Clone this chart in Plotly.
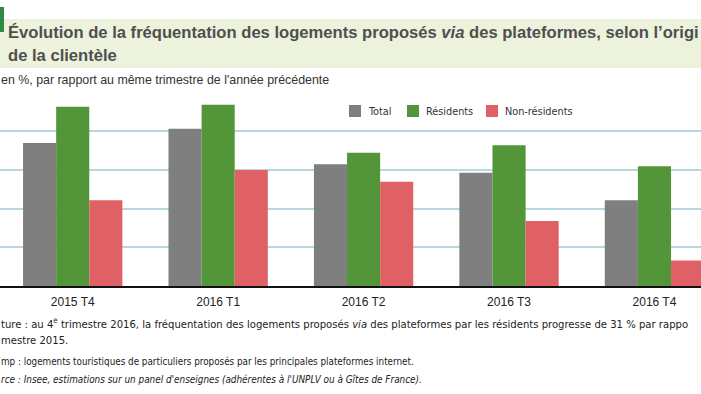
import plotly.graph_objects as go

categories = ["2015 T4", "2016 T1", "2016 T2", "2016 T3", "2016 T4"]
total = [37.0, 40.7, 31.5, 29.3, 22.2]
residents = [46.4, 46.9, 34.5, 36.4, 31.0]
non_residents = [22.2, 30.0, 27.0, 16.8, 6.6]
series_names = ["Total", "Résidents", "Non-résidents"]
series_colors = ["#7f7f7f", "#53963a", "#df6165"]

W, H = 701, 394
T, B = 92, 108
PH = H - T - B


def py(y):
    return (H - B - y) / PH


def px(x):
    return x / W


fig = go.Figure()
for name, vals, col in zip(series_names, [total, residents, non_residents], series_colors):
    fig.add_trace(go.Bar(x=categories, y=vals, name=name, marker_color=col,
                         marker_line_width=0, showlegend=False))

FONT = "Liberation Sans, Arial, sans-serif"
NARROW = "DejaVu Sans Condensed, Liberation Sans Narrow, sans-serif"

shapes = [
    dict(type="rect", xref="paper", yref="paper", x0=px(0), x1=px(701), y0=py(68), y1=py(19),
         fillcolor="#ecf2db", line_width=0, layer="below"),
    dict(type="rect", xref="paper", yref="paper", x0=px(0), x1=px(4), y0=py(32), y1=py(7),
         fillcolor="#2f8a45", line_width=0),
]
annotations = [
    dict(text="Évolution de la fréquentation des logements proposés <i>via</i> des plateformes, selon l’origi",
         x=px(6), y=py(33), xanchor="left", yanchor="middle",
         font=dict(family=FONT, size=16.6, color="#4f4f4f", weight="bold")),
    dict(text="de la clientèle", x=px(6), y=py(55), xanchor="left", yanchor="middle",
         font=dict(family=FONT, size=16.6, color="#4f4f4f", weight="bold")),
    dict(text="en %, par rapport au même trimestre de l'année précédente", x=px(-1), y=py(80),
         xanchor="left", yanchor="middle", font=dict(family=FONT, size=12.4, color="#333333")),
    dict(text="ture : au 4<sup>e</sup> trimestre 2016, la fréquentation des logements proposés <i>via</i> des plateformes par les résidents progresse de 31 % par rappo",
         x=px(-1), y=py(323), xanchor="left", yanchor="middle",
         font=dict(family=NARROW, size=11.2, color="#222222")),
    dict(text="mestre 2015.", x=px(-1), y=py(340), xanchor="left", yanchor="middle",
         font=dict(family=NARROW, size=11.2, color="#222222")),
    dict(text="mp : logements touristiques de particuliers proposés par les principales plateformes internet.",
         x=px(-1), y=py(361), xanchor="left", yanchor="middle",
         font=dict(family=NARROW, size=9.8, color="#222222")),
    dict(text="<i>rce : Insee, estimations sur un panel d'enseignes (adhérentes à l'UNPLV ou à Gîtes de France).</i>",
         x=px(-1), y=py(379), xanchor="left", yanchor="middle",
         font=dict(family=NARROW, size=9.9, color="#222222")),
]
leg_x = [349, 407, 486]
for name, col, lx in zip(series_names, series_colors, leg_x):
    shapes.append(dict(type="rect", xref="paper", yref="paper", x0=px(lx), x1=px(lx + 12),
                       y0=py(117), y1=py(105), fillcolor=col, line_width=0))
    annotations.append(dict(text=name, x=px(lx + 17), y=py(111), xanchor="left", yanchor="middle",
                            font=dict(family=NARROW, size=10.8, color="#333333")))

for a in annotations:
    a.update(xref="paper", yref="paper", showarrow=False)

fig.update_layout(
    width=W, height=H, margin=dict(l=0, r=0, t=T, b=B),
    paper_bgcolor="white", plot_bgcolor="white",
    barmode="group", bargap=0.317, bargroupgap=0,
    shapes=shapes, annotations=annotations,
    xaxis=dict(range=[-0.5, 4.32], showline=True, linecolor="#111111", linewidth=2,
               ticks="", ticklabelstandoff=4,
               tickfont=dict(family=FONT, size=12, color="#222222"), showgrid=False),
    yaxis=dict(range=[0, 50.2], dtick=10, showticklabels=False, gridcolor="#b9d7df",
               gridwidth=1.5, zeroline=False),
)
fig.write_html("out.html", config={"displayModeBar": False},
               post_script="document.body.style.margin='0px';")
